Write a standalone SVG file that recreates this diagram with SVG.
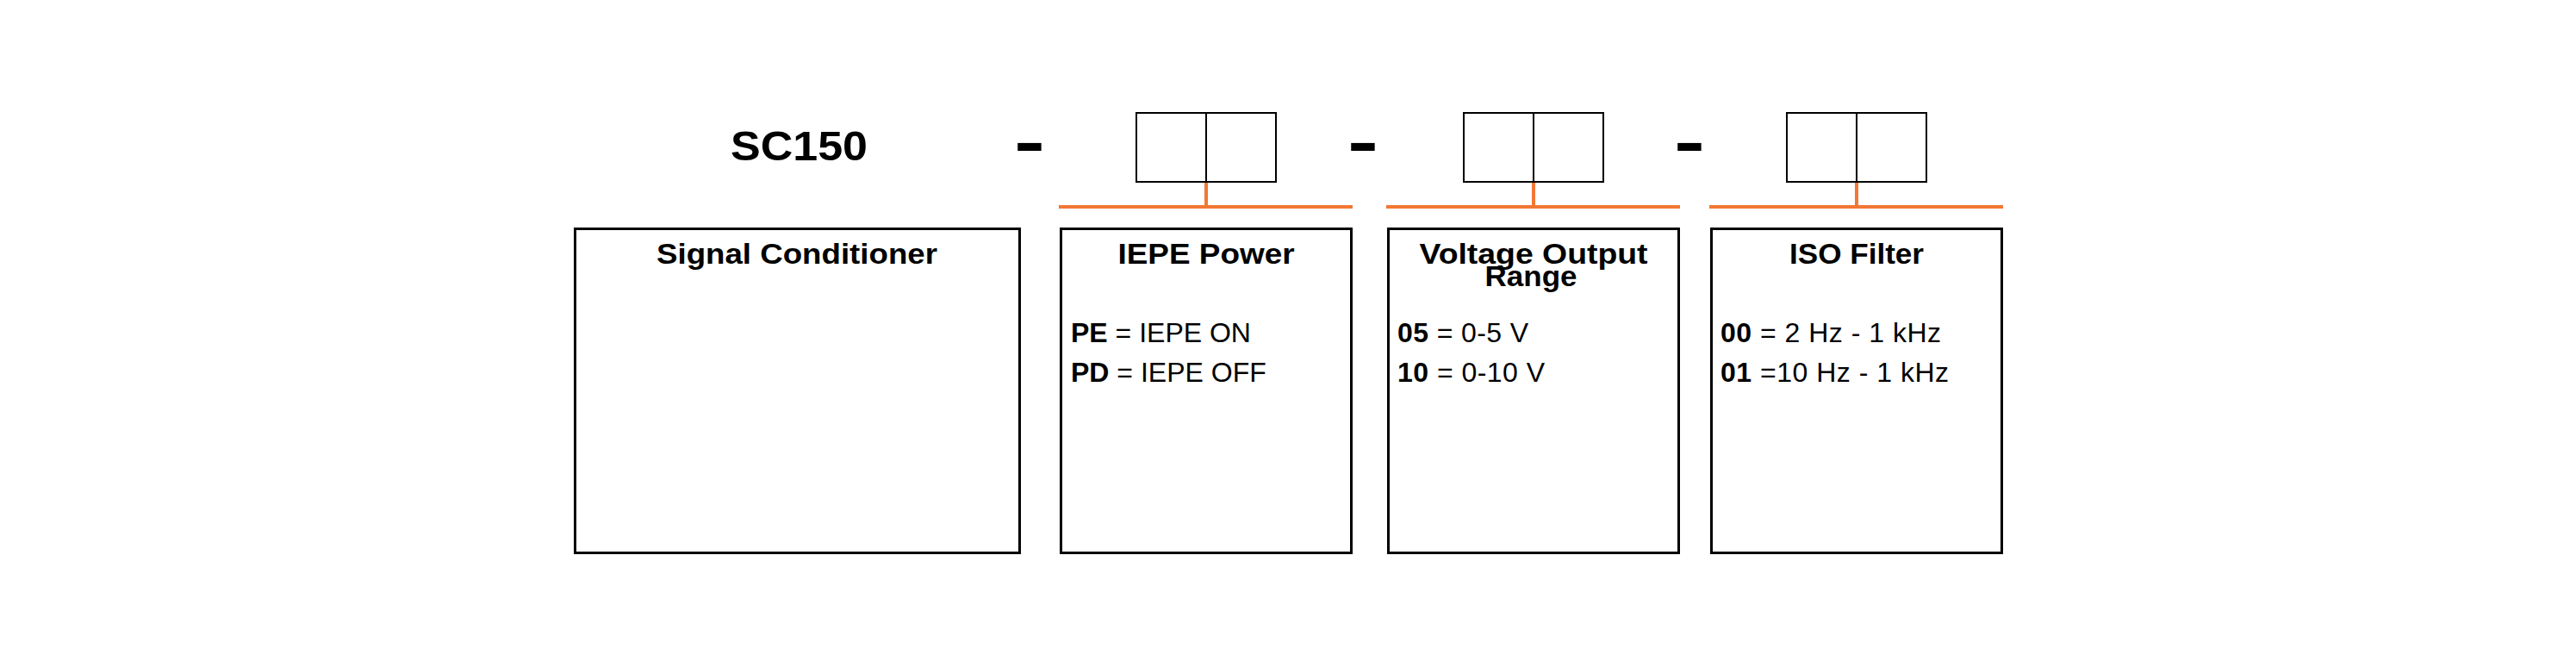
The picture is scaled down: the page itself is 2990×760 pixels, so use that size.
<svg xmlns="http://www.w3.org/2000/svg" width="2990" height="760" viewBox="0 0 2990 760">
<style>
.box{fill:#fff;stroke:#000;stroke-width:3}
.slot{fill:none;stroke:#000;stroke-width:2}
.conn{stroke:#F37735;stroke-width:4;fill:none}
.title{font-family:"Liberation Sans",Arial,sans-serif;font-weight:bold;font-size:33px;fill:#000;text-anchor:middle}
.body{font-family:"Liberation Sans",Arial,sans-serif;font-size:32px;fill:#000}
.b{font-weight:bold}
.dash{font-family:"Liberation Sans",Arial,sans-serif;font-weight:bold;font-size:76px;fill:#000;text-anchor:middle}
.code{font-family:"Liberation Sans",Arial,sans-serif;font-weight:bold;font-size:48px;fill:#000}
</style>
<rect width="2990" height="760" fill="#fff"/>

<g id="code">
<text class="code" x="848" y="186" textLength="159" lengthAdjust="spacingAndGlyphs">SC150</text>
</g>
<g id="dash1"><text class="dash" x="1195" y="190" textLength="36" lengthAdjust="spacingAndGlyphs">-</text></g>
<g id="dash2"><text class="dash" x="1582" y="190" textLength="36" lengthAdjust="spacingAndGlyphs">-</text></g>
<g id="dash3"><text class="dash" x="1961" y="190" textLength="36" lengthAdjust="spacingAndGlyphs">-</text></g>

<g id="slot1">
<rect class="slot" x="1319" y="131" width="162" height="80"/>
<line class="slot" x1="1400" y1="131" x2="1400" y2="211"/>
</g>
<g id="slot2">
<rect class="slot" x="1699" y="131" width="162" height="80"/>
<line class="slot" x1="1780" y1="131" x2="1780" y2="211"/>
</g>
<g id="slot3">
<rect class="slot" x="2074" y="131" width="162" height="80"/>
<line class="slot" x1="2155" y1="131" x2="2155" y2="211"/>
</g>

<g id="connectors">
<line class="conn" x1="1400" y1="212" x2="1400" y2="240"/>
<line class="conn" x1="1229" y1="240" x2="1570" y2="240"/>
<line class="conn" x1="1780" y1="212" x2="1780" y2="240"/>
<line class="conn" x1="1609" y1="240" x2="1950" y2="240"/>
<line class="conn" x1="2155" y1="212" x2="2155" y2="240"/>
<line class="conn" x1="1984" y1="240" x2="2325" y2="240"/>
</g>

<g id="signal-conditioner">
<rect class="box" x="667.5" y="265.5" width="516" height="376"/>
<text class="title" x="925" y="306" textLength="326" lengthAdjust="spacingAndGlyphs">Signal Conditioner</text>
</g>

<g id="iepe-power">
<rect class="box" x="1231.5" y="265.5" width="337" height="376"/>
<text class="title" x="1400" y="306" textLength="205" lengthAdjust="spacingAndGlyphs">IEPE Power</text>
<text class="body" x="1243" y="397"><tspan class="b">PE</tspan> = IEPE ON</text>
<text class="body" x="1243" y="443"><tspan class="b">PD</tspan> = IEPE OFF</text>
</g>

<g id="voltage-output">
<rect class="box" x="1611.5" y="265.5" width="337" height="376"/>
<text class="title" x="1780" y="306" textLength="265" lengthAdjust="spacingAndGlyphs">Voltage Output</text>
<text class="title" x="1777" y="332" textLength="107" lengthAdjust="spacingAndGlyphs">Range</text>
<text class="body" x="1622" y="397" textLength="152"><tspan class="b">05</tspan> = 0-5 V</text>
<text class="body" x="1622" y="443" textLength="171"><tspan class="b">10</tspan> = 0-10 V</text>
</g>

<g id="iso-filter">
<rect class="box" x="1986.5" y="265.5" width="337" height="376"/>
<text class="title" x="2155" y="306" textLength="156" lengthAdjust="spacingAndGlyphs">ISO Filter</text>
<text class="body" x="1997" y="397" textLength="256"><tspan class="b">00</tspan> = 2 Hz - 1 kHz</text>
<text class="body" x="1997" y="443" textLength="265"><tspan class="b">01</tspan> =10 Hz - 1 kHz</text>
</g>
</svg>
